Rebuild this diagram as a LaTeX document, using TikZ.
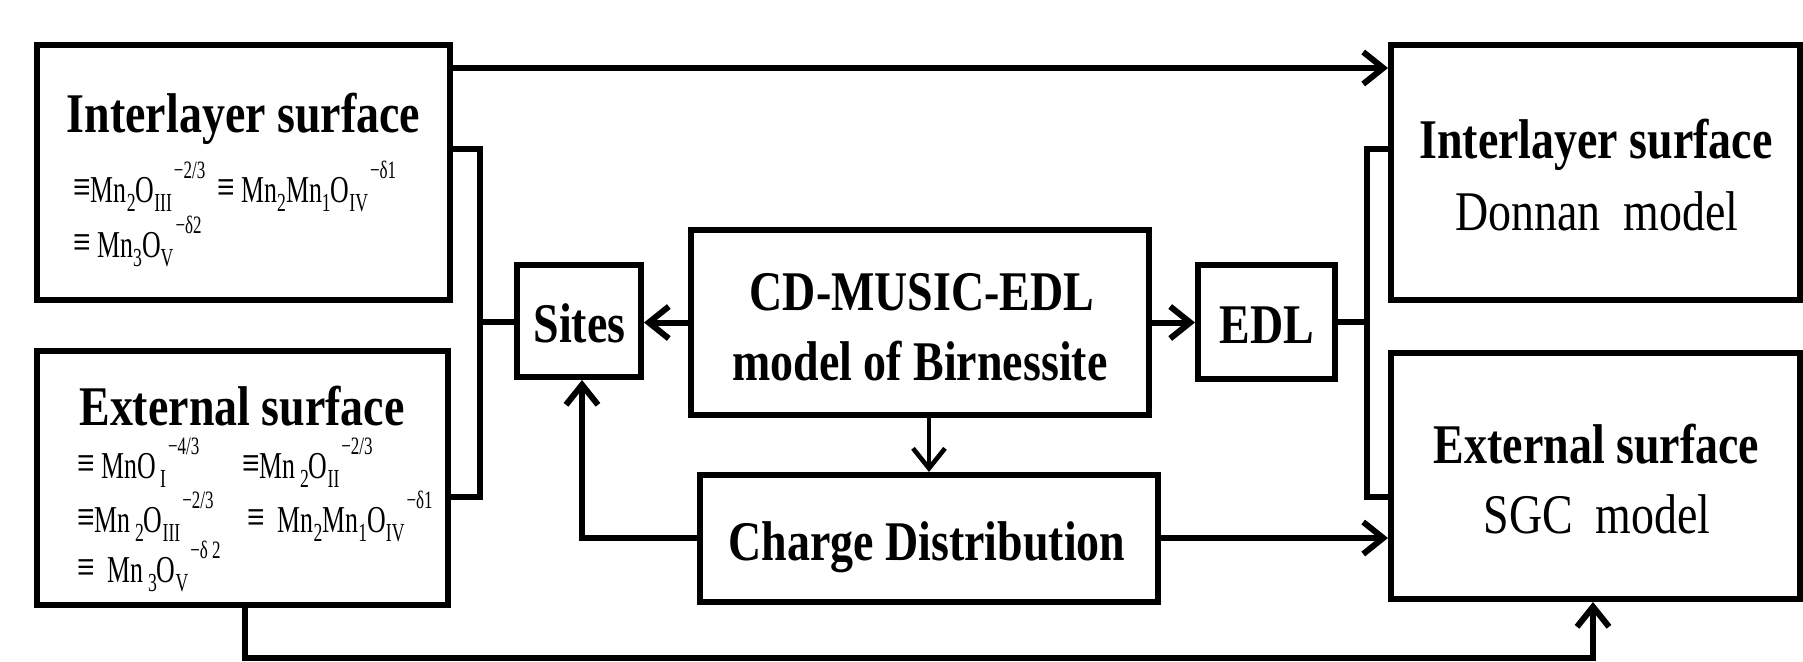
\documentclass[tikz,border=0pt]{standalone}
\usepackage{fontspec}
\setmainfont{Liberation Serif}[FakeStretch=0.82]
\newfontfamily\fmf{Liberation Serif}[FakeStretch=0.68]
\usetikzlibrary{arrows.meta}
\newcommand\bsb[1]{\raisebox{-4.5pt}{\fontsize{13}{13}\selectfont #1}}
\newcommand\bsp[1]{\kern1pt\raisebox{12pt}{\fontsize{12.5}{12.5}\selectfont #1}}
\newcommand\eqv{\scalebox{1.2}{≡}}
\begin{document}
\begin{tikzpicture}[x=0.5pt,y=-0.5pt,
  box/.style={draw, line width=3pt, inner sep=0pt},
  conn/.style={line width=3pt},
  arr/.style={-{Straight Barb[length=10pt,width=16pt]}},
  ttl/.style={inner sep=0pt, anchor=base, font=\fontsize{28}{30}\selectfont\bfseries},
  sub/.style={inner sep=0pt, anchor=base, font=\fontsize{28}{30}\selectfont},
  fm/.style={inner sep=0pt, anchor=base west, font=\fmf\fontsize{19}{21}\selectfont}]
\useasboundingbox (0,0) rectangle (1803,661);
\clip (0,0) rectangle (1803,661);
% boxes
\node[box, minimum width=206.5pt, minimum height=127.5pt] (IL) at (243.5,172.5) {};
\node[box, minimum width=205.5pt, minimum height=127pt] (EL) at (242.5,478) {};
\node[box, minimum width=62pt, minimum height=56pt] (Sites) at (579,321) {};
\node[box, minimum width=229pt, minimum height=92.5pt] (CD) at (920,322.5) {};
\node[box, minimum width=68.5pt, minimum height=57pt] (EDL) at (1266.5,322) {};
\node[box, minimum width=229pt, minimum height=63.5pt] (CH) at (929,538.5) {};
\node[box, minimum width=204.5pt, minimum height=127.5pt] (IR) at (1595.5,172.5) {};
\node[box, minimum width=204.5pt, minimum height=123pt] (ER) at (1595.5,476) {};
% texts
\node[ttl] (tIL) at (243.5,132) {Interlayer surface};
\node[fm] (fIL1) at (73,202) {\eqv Mn\bsb{2}O\bsb{III}\bsp{−2/3}};
\node[fm] (fIL2) at (217,202) {\eqv\ Mn\bsb{2}Mn\bsb{1}O\bsb{IV}\bsp{−δ1}};
\node[fm] (fIL3) at (73,257) {\eqv\ Mn\bsb{3}O\bsb{V}\bsp{−δ2}};
\node[ttl] (tEL) at (242,425) {External surface};
\node[fm] (fEL1) at (77,478) {\eqv\ MnO\bsb{\,I}\bsp{−4/3}};
\node[fm] (fEL2) at (242,478) {\eqv Mn\bsb{\,2}O\bsb{II}\bsp{−2/3}};
\node[fm] (fEL3) at (77,532) {\eqv Mn\bsb{\,2}O\bsb{III}\bsp{−2/3}};
\node[fm] (fEL4) at (247,532) {\eqv\ \ Mn\bsb{2}Mn\bsb{1}O\bsb{IV}\bsp{−δ1}};
\node[fm] (fEL5) at (77,582) {\eqv\ \ Mn\bsb{\,3}O\bsb{V}\bsp{−δ\,2}};
\node[ttl] (tS) at (579.5,342) {Sites};
\node[ttl] (tCD1) at (922,310) {CD-MUSIC-EDL};
\node[ttl] (tCD2) at (920,380) {model of Birnessite};
\node[ttl] (tEDL) at (1267,343) {EDL};
\node[ttl] (tCH) at (927,560) {Charge Distribution};
\node[ttl] (tIR) at (1596,158) {Interlayer surface};
\node[sub] (sIR) at (1597,230) {Donnan\ \ model};
\node[ttl] (tER) at (1596.5,463) {External surface};
\node[sub] (sER) at (1597,533) {SGC\ \ model};
% coordinates
\coordinate (ta) at (450,68);
\coordinate (lbt) at (480,149);
\coordinate (lbm) at (480,322);
\coordinate (lbb) at (480,497);
\coordinate (rbt) at (1367,149);
\coordinate (rbm) at (1367,322);
\coordinate (rbb) at (1367,497);
\coordinate (cs) at (582,538);
\coordinate (b1) at (245,658);
\coordinate (b2) at (1593,658);
% connectors
\draw[conn,arr] (IL.east |- ta) -- (IR.west |- ta);
\draw[conn] (IL.east |- lbt) -- (lbt) -- (lbb) -- (EL.east |- lbb);
\draw[conn] (lbm) -- (Sites.west |- lbm);
\draw[conn,arr] (CD.west) -- (Sites.east |- CD.west);
\draw[conn,arr] (CD.east) -- (EDL.west |- CD.east);
\draw[conn] (EDL.east |- rbm) -- (rbm);
\draw[conn] (IR.west |- rbt) -- (rbt) -- (rbb) -- (ER.west |- rbb);
\draw[line width=2.3pt,arr] (CH.north |- CD.south) -- (CH.north);
\draw[conn,arr] (CH.west |- cs) -- (cs) -- (Sites.south -| cs);
\draw[conn,arr] (CH.east |- cs) -- (ER.west |- cs);
\draw[conn,arr] (EL.south -| b1) -- (b1) -- (b2) -- (ER.south -| b2);
\end{tikzpicture}
\end{document}
